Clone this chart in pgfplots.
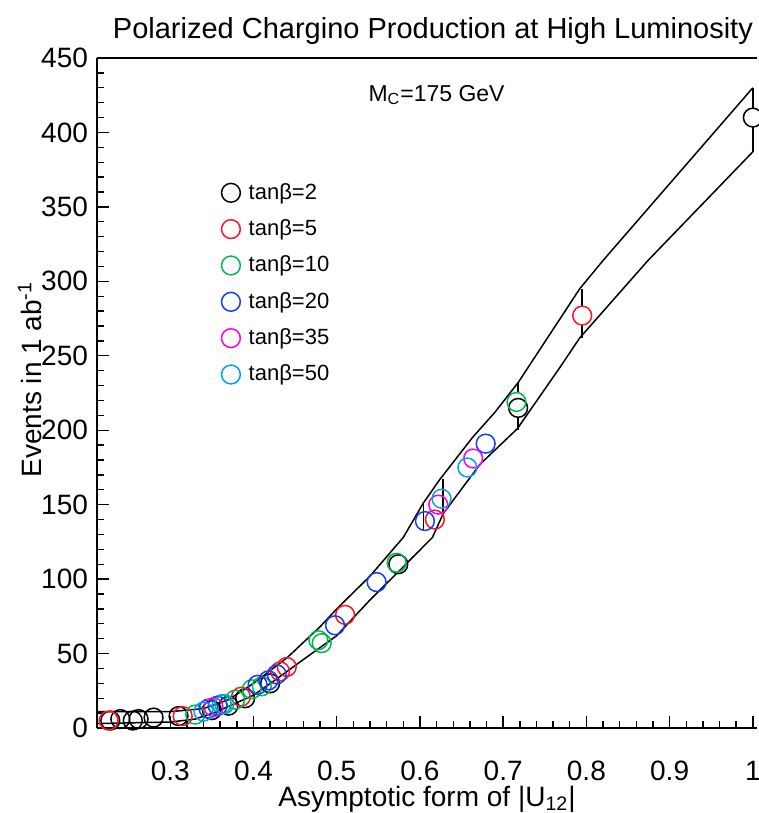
\documentclass[border=0pt]{standalone}
\usepackage{pgfplots}
\pgfplotsset{compat=1.18}
\usepackage{fontspec}
\setmainfont{Liberation Sans}
\definecolor{cblack}{RGB}{0,0,0}
\definecolor{cred}{RGB}{255,20,40}
\definecolor{cgreen}{RGB}{0,185,80}
\definecolor{cblue}{RGB}{20,60,255}
\definecolor{cmag}{RGB}{255,0,230}
\definecolor{ccyan}{RGB}{0,160,255}
\begin{document}
\begin{tikzpicture}
\begin{axis}[
  scale only axis, width=330pt, height=335pt,
  xmin=0.212, xmax=1.005, ymin=0, ymax=450,
  axis x line*=bottom, axis y line*=left,
  axis line style={-, line width=0.8pt},
  xtick={0.3,0.4,0.5,0.6,0.7,0.8,0.9,1},
  xticklabels={0.3,0.4,0.5,0.6,0.7,0.8,0.9,1},
  minor x tick num=4,
  ytick={0,50,...,450}, minor y tick num=4,
  tick align=inside,
  major tick length=6pt, minor tick length=3.5pt,
  tick style={black, line width=0.7pt},
  /pgf/number format/assume math mode=true,
  tick label style={font=\fontsize{14}{16}\selectfont},
  xticklabel style={yshift=-13pt},
  yticklabel style={xshift=-1pt},
  title={Polarized Chargino Production at High Luminosity},
  title style={font=\fontsize{14.5}{16}\selectfont, at={(rel axis cs:0.509,1)}, anchor=base, yshift=4pt},
  xlabel={Asymptotic form of |U\textsubscript{12}|},
  xlabel style={font=\fontsize{14}{16}\selectfont, at={(rel axis cs:0.5,0)}, anchor=center, yshift=-35.5pt},
  ylabel={Events in 1 ab\textsuperscript{-1}},
  ylabel style={font=\fontsize{14}{16}\selectfont, at={(rel axis cs:0,0.52)}, anchor=center, yshift=33.5pt},
  legend style={draw=none, fill=none, at={(rel axis cs:0.179,0.8255)}, anchor=north west,
    font=\fontsize{11}{13}\selectfont, row sep=4.7pt, legend cell align=left},
  legend image code/.code={\draw[#1] plot coordinates {(0cm,0cm)}; \path (6.5pt,0pt);},
  every axis plot/.append style={line width=0.75pt},
  clip=false,
]
\addplot[only marks, mark=o, mark size=4.7pt, color=cblack] coordinates {
(0.228,5) (0.240,6) (0.255,5) (0.262,6) (0.280,7) (0.310,8) (0.350,12) (0.370,15) (0.390,20) (0.420,30) (0.574,110) (0.718,215) (1.0,410)};
\addlegendentry{tanβ=2}
\addplot[only marks, mark=o, mark size=4.7pt, color=cred] coordinates {
(0.226,5) (0.315,8) (0.385,21) (0.432,38) (0.440,41) (0.510,76) (0.618,140) (0.795,277)};
\addlegendentry{tanβ=5}
\addplot[only marks, mark=o, mark size=4.7pt, color=cgreen] coordinates {
(0.330,9) (0.362,16) (0.378,19) (0.398,26) (0.410,28) (0.478,59) (0.482,57) (0.572,111) (0.716,219)};
\addlegendentry{tanβ=10}
\addplot[only marks, mark=o, mark size=4.7pt, color=cblue] coordinates {
(0.346,13) (0.357,15) (0.405,29) (0.418,32) (0.428,36) (0.498,69) (0.548,98) (0.606,139) (0.679,191)};
\addlegendentry{tanβ=20}
\addplot[only marks, mark=o, mark size=4.7pt, color=cmag] coordinates {
(0.352,14) (0.622,150) (0.664,181)};
\addlegendentry{tanβ=35}
\addplot[only marks, mark=o, mark size=4.7pt, color=ccyan] coordinates {
(0.340,11) (0.365,16) (0.626,154) (0.657,175)};
\addlegendentry{tanβ=50}
% band
\addplot[black, forget plot] coordinates {
(0.212,11) (0.30,11) (0.34,13) (0.37,19) (0.40,30) (0.44,47) (0.48,68) (0.50,80) (0.54,102) (0.58,128) (0.604,151) (0.624,167) (0.663,195) (0.69,212) (0.718,232) (0.792,295) (0.82,314) (1.0,430)};
\addplot[black, forget plot] coordinates {
(0.212,3) (0.30,4) (0.33,6) (0.356,11) (0.40,22) (0.428,33) (0.46,46) (0.50,62) (0.54,86) (0.576,106) (0.615,128) (0.628,144) (0.656,165) (0.672,177) (0.717,201) (0.768,242) (0.792,262) (0.874,314) (1.0,387)};
% vertical bars
\addplot[black, forget plot] coordinates {(1.0,387) (1.0,403.5)};
\addplot[black, forget plot] coordinates {(1.0,416.5) (1.0,430)};
\addplot[black, forget plot] coordinates {(0.795,262) (0.795,270.5)};
\addplot[black, forget plot] coordinates {(0.795,283.5) (0.795,295)};
\addplot[black, forget plot] coordinates {(0.718,200) (0.718,208)};
\addplot[black, forget plot] coordinates {(0.718,225) (0.718,232)};
\addplot[black, forget plot] coordinates {(0.604,133) (0.604,151)};
\addplot[black, forget plot] coordinates {(0.628,144) (0.628,167)};
% top frame
\addplot[black, line width=0.8pt, forget plot] coordinates {(0.212,450) (1.005,450)};
\node[font=\fontsize{11.5}{13}\selectfont] at (axis cs:0.62,425) {M\textsubscript{C}=175 GeV};
\end{axis}
\pgfresetboundingbox
\path[use as bounding box] ([shift={(-48.5pt,-42.5pt)}]current axis.south west) rectangle ([shift={(1pt,29pt)}]current axis.north east);
\end{tikzpicture}
\end{document}
